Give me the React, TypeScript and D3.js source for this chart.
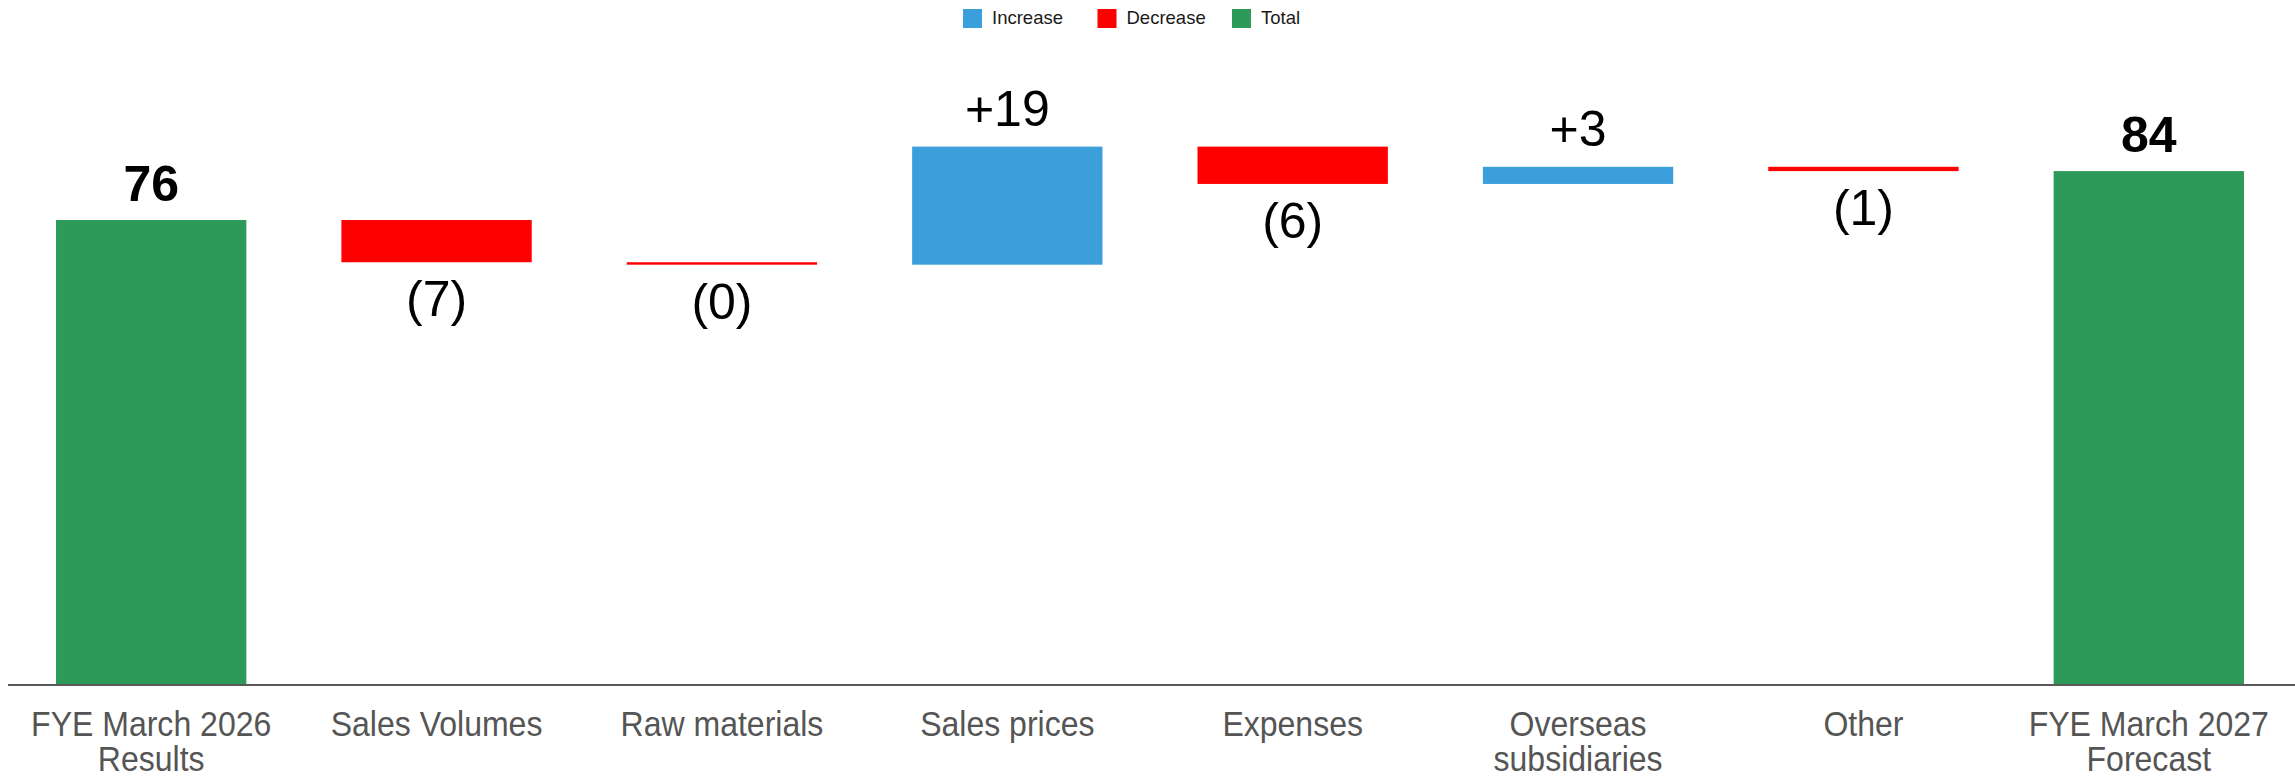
import React, { useMemo } from 'react';
import * as d3 from 'd3';

// chart data
const categories = [
    ['FYE March 2026', 'Results'],
    ['Sales Volumes'],
    ['Raw materials'],
    ['Sales prices'],
    ['Expenses'],
    ['Overseas', 'subsidiaries'],
    ['Other'],
    ['FYE March 2027', 'Forecast'],
];
const kinds = ['total', 'decrease', 'decrease', 'increase', 'decrease', 'increase', 'decrease', 'total'];
const values = [76, -6.9, -0.4, 19.3, -6.1, 2.8, -0.7, 84];
const valueLabels = ['76', '(7)', '(0)', '+19', '(6)', '+3', '(1)', '84'];
const legendItems = ['Increase', 'Decrease', 'Total'];

const colors: Record<string, string> = {
    increase: '#3a9fdb',
    decrease: '#ff0000',
    total: '#2e9a5a',
};

const W = 2295;
const H = 777;

interface Step {
    i: number;
    kind: string;
    lo: number;
    hi: number;
    label: string;
}

export default function App() {
    const x = useMemo(() => d3.scaleBand<number>()
        .domain(d3.range(categories.length))
        .range([8.5, 2291.5])
        .paddingInner(0.333)
        .paddingOuter(0.1665), []);

    const y = useMemo(() => d3.scaleLinear().domain([0, 100]).range([685, 73.2]), []);

    // running totals for the waterfall
    const steps = useMemo<Step[]>(() => {
        let run = 0;
        return values.map((v, i) => {
            let start: number, end: number;
            if (kinds[i] === 'total') {
                start = 0;
                end = v;
            } else {
                start = run;
                end = run + v;
            }
            run = end;
            return { i, kind: kinds[i], lo: Math.min(start, end), hi: Math.max(start, end), label: valueLabels[i] };
        });
    }, []);

    const legendKeys = ['increase', 'decrease', 'total'];

    return (
        <div style={{ position: 'absolute', left: 0, top: 0, width: W, height: H, background: '#fff' }}>
            <svg width={W} height={H} style={{ display: 'block' }} fontFamily="'Liberation Sans', Arial, sans-serif">
                {/* legend */}
                {legendItems.map((name, k) => {
                    const lx = 963 + k * 134.5;
                    return (
                        <g key={name}>
                            <rect x={lx} y={9} width={19} height={19} fill={colors[legendKeys[k]]} />
                            <text x={lx + 29} y={24} fontSize={18.5} fill="#1a1a1a">{name}</text>
                        </g>
                    );
                })}

                {/* bars */}
                {steps.map(s => (
                    <rect
                        key={`bar-${s.i}`}
                        x={x(s.i)}
                        y={y(s.hi)}
                        width={x.bandwidth()}
                        height={Math.max(2, y(s.lo) - y(s.hi))}
                        fill={colors[s.kind]}
                    />
                ))}

                {/* value labels */}
                {steps.map(s => {
                    const cx = (x(s.i) ?? 0) + x.bandwidth() / 2;
                    const below = s.kind === 'decrease';
                    const ty = below ? y(s.lo) + 54 : y(s.hi) - (s.kind === 'total' ? 19 : 21);
                    return (
                        <text
                            key={`lab-${s.i}`}
                            x={cx}
                            y={ty}
                            textAnchor="middle"
                            fontSize={50}
                            fontWeight={s.kind === 'total' ? 'bold' : 'normal'}
                            fill="#000"
                        >
                            {s.label}
                        </text>
                    );
                })}

                {/* baseline */}
                <line x1={8} x2={W} y1={685} y2={685} stroke="#5a5a5a" strokeWidth={2} />

                {/* category labels, slightly condensed like the source */}
                {categories.map((lines, i) => {
                    const cx = (x(i) ?? 0) + x.bandwidth() / 2;
                    return (
                        <text
                            key={`cat-${i}`}
                            transform={`translate(${cx},736) scale(0.915,1)`}
                            textAnchor="middle"
                            fontSize={35}
                            fill="#555555"
                        >
                            {lines.map((ln, j) => (
                                <tspan key={j} x={0} dy={j === 0 ? 0 : 35}>{ln}</tspan>
                            ))}
                        </text>
                    );
                })}
            </svg>
        </div>
    );
}
